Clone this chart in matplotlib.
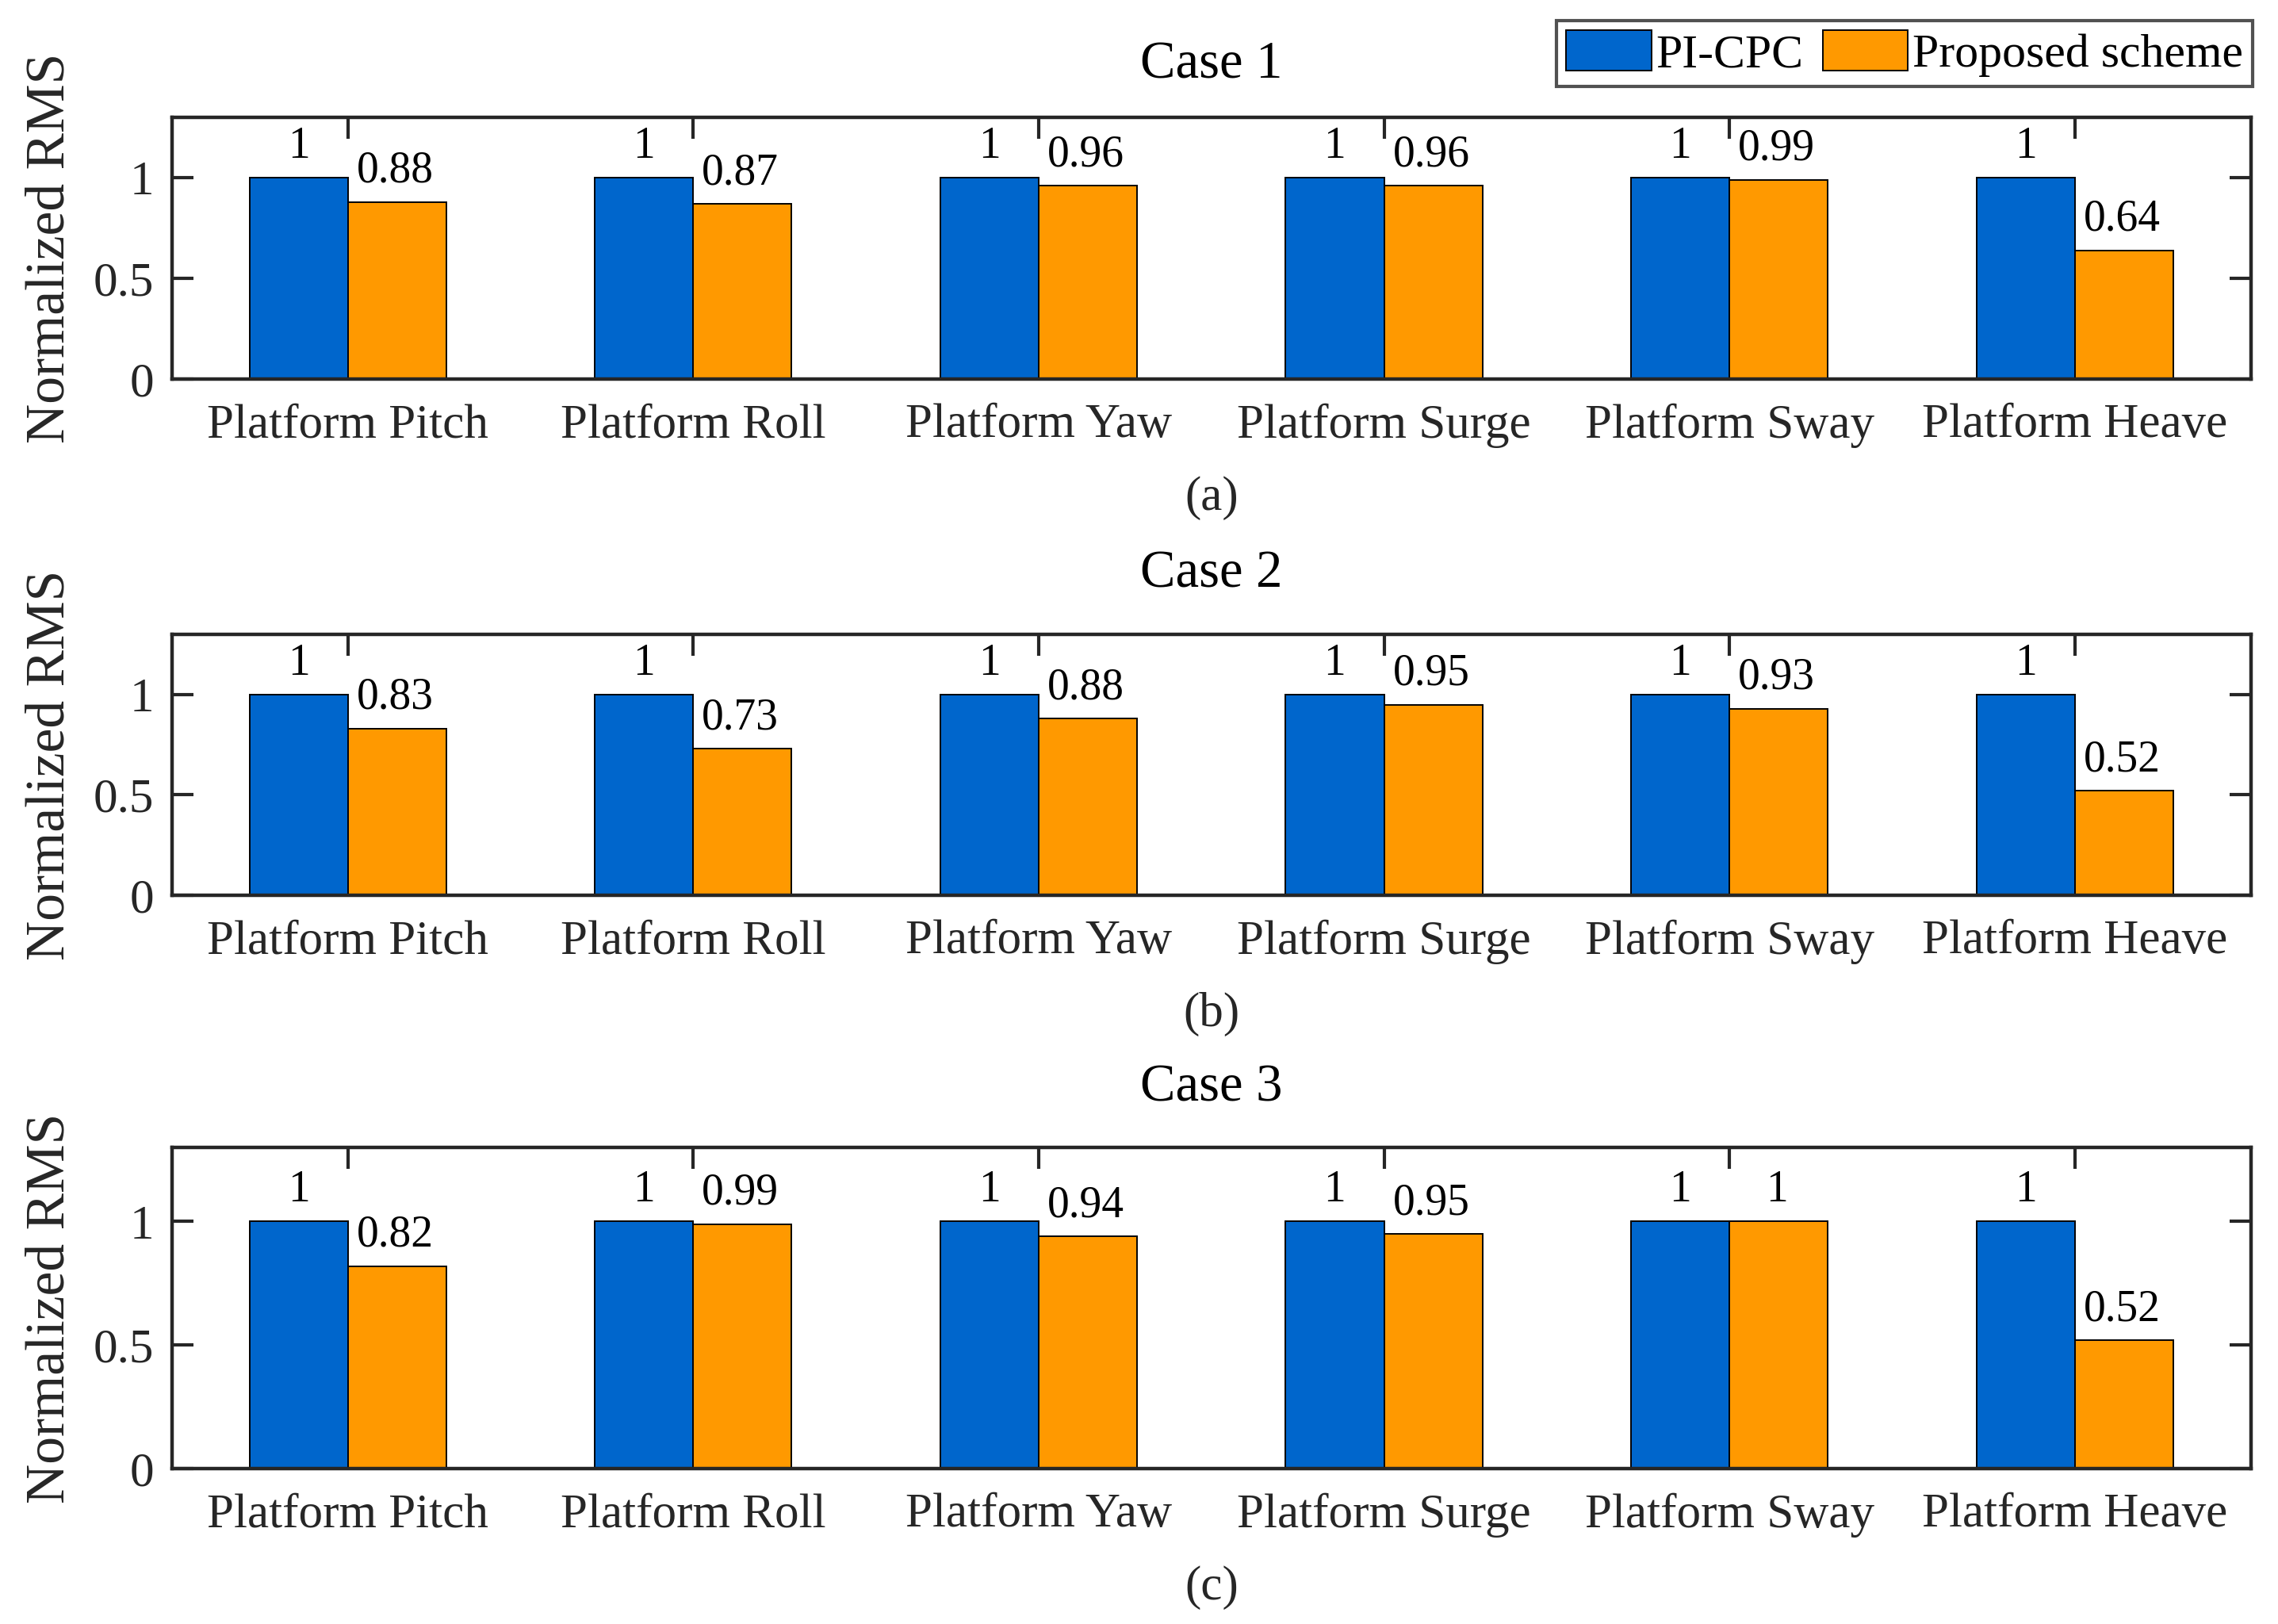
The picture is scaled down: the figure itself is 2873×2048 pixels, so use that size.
import numpy as np
import matplotlib
matplotlib.use("Agg")
import matplotlib.pyplot as plt

plt.rcParams['font.family'] = ['Liberation Serif', 'DejaVu Serif']

# data
categories = ['Platform Pitch', 'Platform Roll', 'Platform Yaw',
              'Platform Surge', 'Platform Sway', 'Platform Heave']
pi_cpc = [1, 1, 1, 1, 1, 1]
case1_proposed = [0.88, 0.87, 0.96, 0.96, 0.99, 0.64]
case2_proposed = [0.83, 0.73, 0.88, 0.95, 0.93, 0.52]
case3_proposed = [0.82, 0.99, 0.94, 0.95, 1, 0.52]
case_titles = ['Case 1', 'Case 2', 'Case 3']
sub_labels = ['(a)', '(b)', '(c)']

blue = '#0066CC'
orange = '#FF9900'
dark = '#262626'

fig = plt.figure(figsize=(14.365, 10.24), dpi=200)

# axes rectangles (figure fraction)
rects = [
    [0.07536, 0.76660, 0.91281, 0.16113],
    [0.07536, 0.44873, 0.91281, 0.16064],
    [0.07536, 0.09570, 0.91281, 0.19775],
]
title_pads = [18, 21.5, 21]

x = np.arange(1, len(categories) + 1)
w = 0.285
proposed_all = [case1_proposed, case2_proposed, case3_proposed]

for i, rect in enumerate(rects):
    ax = fig.add_axes(rect)
    prop = proposed_all[i]
    b1 = ax.bar(x - w / 2, pi_cpc, w, color=blue, edgecolor='black',
                linewidth=0.7, label='PI-CPC', zorder=2)
    b2 = ax.bar(x + w / 2, prop, w, color=orange, edgecolor='black',
                linewidth=0.7, label='Proposed scheme', zorder=2)

    for xi, v in zip(x - w / 2, pi_cpc):
        ax.annotate(f"{v:g}", (xi, v), xytext=(0, 9.0), textcoords='offset points',
                    ha='center', va='baseline', fontsize=20, color='black')
    for xi, v in zip(x + w / 2, prop):
        ax.annotate(f"{v:g}", (xi, v), xytext=(-1, 9.0), textcoords='offset points',
                    ha='center', va='baseline', fontsize=20, color='black')

    ax.set_xlim(0.49, 6.51)
    ax.set_ylim(0, 1.3)
    ax.set_xticks(x)
    ax.set_xticklabels(categories)
    ax.set_yticks([0, 0.5, 1])
    ax.set_yticklabels(['0', '0.5', '1'])
    ax.tick_params(direction='in', length=9.7, width=1.5, colors=dark,
                   labelsize=22, top=True, right=True)
    ax.tick_params(axis='x', pad=11)
    ax.tick_params(axis='y', pad=8)
    for s in ax.spines.values():
        s.set_linewidth(1.6)
        s.set_color(dark)
        s.set_zorder(3)

    ax.set_title(case_titles[i], fontsize=24, pad=title_pads[i], color='black')
    ax.set_ylabel('Normalized RMS', fontsize=25, color=dark, labelpad=8)
    ax.annotate(sub_labels[i], (0.5, 0), xycoords='axes fraction',
                xytext=(0, -54), textcoords='offset points',
                ha='center', va='center', fontsize=22, color=dark)

    if i == 0:
        handles = [b1, b2]

leg = fig.legend(handles, ['PI-CPC', 'Proposed scheme'], ncol=2,
                 loc='upper right', bbox_to_anchor=(2841 / 2873, 1 - 26 / 2048),
                 bbox_transform=fig.transFigure, fontsize=21.5, frameon=True,
                 fancybox=False, borderaxespad=0, handlelength=1.8,
                 handleheight=0.95, handletextpad=0.1, columnspacing=0.4,
                 borderpad=0.2)
leg.get_frame().set_edgecolor(dark)
leg.get_frame().set_linewidth(1.5)

fig.savefig('out.png', dpi=200)
